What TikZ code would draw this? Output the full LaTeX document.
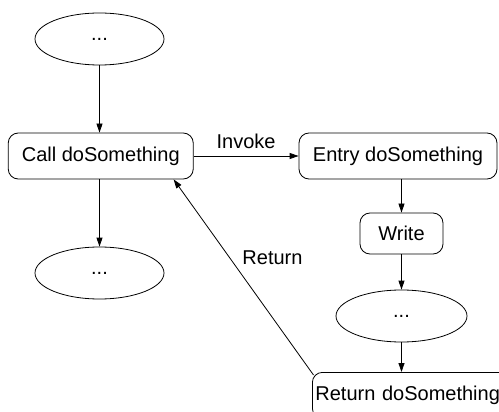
\documentclass[tikz,border=0pt]{standalone}
\usepackage{fontspec}
\setmainfont{Liberation Sans}
\usetikzlibrary{shapes.geometric,arrows.meta}
\begin{document}
\begin{tikzpicture}[x=1pt,y=-1pt,
  every node/.style={font=\fontsize{20}{24}\selectfont},
  state/.style={draw,line width=0.8pt,rounded corners=10pt,inner sep=0pt,minimum height=46pt},
  blob/.style={draw,line width=0.8pt,ellipse,inner sep=0pt,minimum width=129pt,minimum height=52pt},
  flow/.style={line width=0.8pt,-{Triangle[length=9pt,width=6pt]}},
  lbl/.style={inner sep=0pt}]
  \useasboundingbox[clip] (0,0) rectangle (499,412);
  % nodes
  \node[blob]  (top)   at (99.5,39)   {...};
  \node[state,minimum width=185pt] (call)  at (100.75,156) {Call doSomething};
  \node[blob]  (after) at (99.5,273)  {...};
  \node[state,minimum width=198pt] (entry) at (398,156)    {Entry doSomething};
  \node[state,minimum width=83pt,minimum height=41pt] (write) at (401.5,233.5) {Write};
  \node[blob,minimum width=131pt] (body)  at (401.5,316)  {...};
  \node[state,anchor=north west,inner xsep=3pt,text width=210pt,align=left] (ret) at (312,372) {Return doSomething};
  % connectors
  \draw[flow] (top.south) -- (top.south |- call.north);
  \draw[flow] (top.south |- call.south) -- (after.north);
  \draw[flow] (call.east) -- node[lbl,above=7pt] (invoke) {Invoke} (entry.west);
  \draw[flow] (write.north |- entry.south) -- (write.north);
  \draw[flow] (write.south) -- (body.north);
  \draw[flow] (body.south) -- (body.south |- ret.north);
  \draw[flow] ([xshift=1.5pt,yshift=-3pt]ret.north west) -- ([xshift=-20pt]call.south east);
  \node[lbl] (retlbl) at (272.5,258) {Return};
\end{tikzpicture}
\end{document}
